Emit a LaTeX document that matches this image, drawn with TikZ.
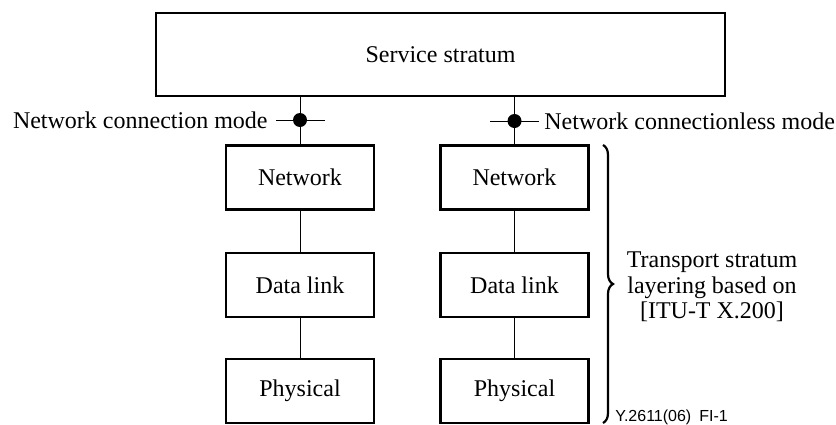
\documentclass[tikz,border=0pt]{standalone}
\usepackage{fontspec}
\setmainfont{Liberation Serif}
\newfontfamily\tagfont{Liberation Sans}
\usetikzlibrary{decorations.pathreplacing}
\tikzset{
  layer/.style={draw, line width=1.1pt, minimum width=74pt, minimum height=32pt,
    inner sep=0pt, font=\fontsize{12}{14}\selectfont},
  wire/.style={line width=0.5pt},
  sap/.style={circle, fill=black, inner sep=0pt, minimum size=7pt},
  lbl/.style={font=\fontsize{12}{14}\selectfont, inner sep=0pt}
}
\begin{document}
\begin{tikzpicture}[x=0.5pt, y=-0.5pt]
\useasboundingbox (0,0) rectangle (836,424);

% service stratum
\node[layer, minimum width=284.5pt, minimum height=41.5pt] (svc) at (440.5,54.5) {Service stratum};

% left stack (connection mode)
\node[layer] (netL)  at (300,177.5) {Network};
\node[layer] (dlL)   at (300,285)   {Data link};
\node[layer] (phyL)  at (300,391)   {Physical};

% right stack (connectionless mode)
\node[layer] (netR)  at (514.5,177.5) {Network};
\node[layer] (dlR)   at (514.5,285)   {Data link};
\node[layer] (phyR)  at (514.5,391)   {Physical};

% access points
\node[sap] (sapL) at (300,120) {};
\node[sap] (sapR) at (514.5,121) {};
\coordinate (tickLa) at (276,120);
\coordinate (tickLb) at (325,120);
\coordinate (tickRa) at (490,121);
\coordinate (tickRb) at (539,121);

\draw[wire] (netL.north) -- (netL.north |- svc.south);
\draw[wire] (netR.north) -- (netR.north |- svc.south);
\draw[wire] (tickLa) -- (tickLb);
\draw[wire] (tickRa) -- (tickRb);
\draw[wire] (netL) -- (dlL);
\draw[wire] (dlL) -- (phyL);
\draw[wire] (netR) -- (dlR);
\draw[wire] (dlR) -- (phyR);

\node[lbl, anchor=east] (modeL) at (268,120) {Network connection mode};
\node[lbl, anchor=west] (modeR) at (544,121) {Network connectionless mode};

% transport stratum brace
\coordinate (brTop) at (603,145);
\coordinate (brBot) at (603,423);
\draw[line width=1.1pt, decorate, decoration={brace, amplitude=5pt}] (brTop) -- (brBot);
\node[lbl, align=center, font=\fontsize{12}{12.75}\selectfont] (ts) at (712,287)
  {Transport stratum\\layering based on\\{[}ITU-T X.200{]}};

\node[anchor=base west, inner sep=0pt, font=\tagfont\fontsize{8}{9}\selectfont] (tag) at (615,421) {Y.2611(06)\enspace FI-1};
\end{tikzpicture}
\end{document}
